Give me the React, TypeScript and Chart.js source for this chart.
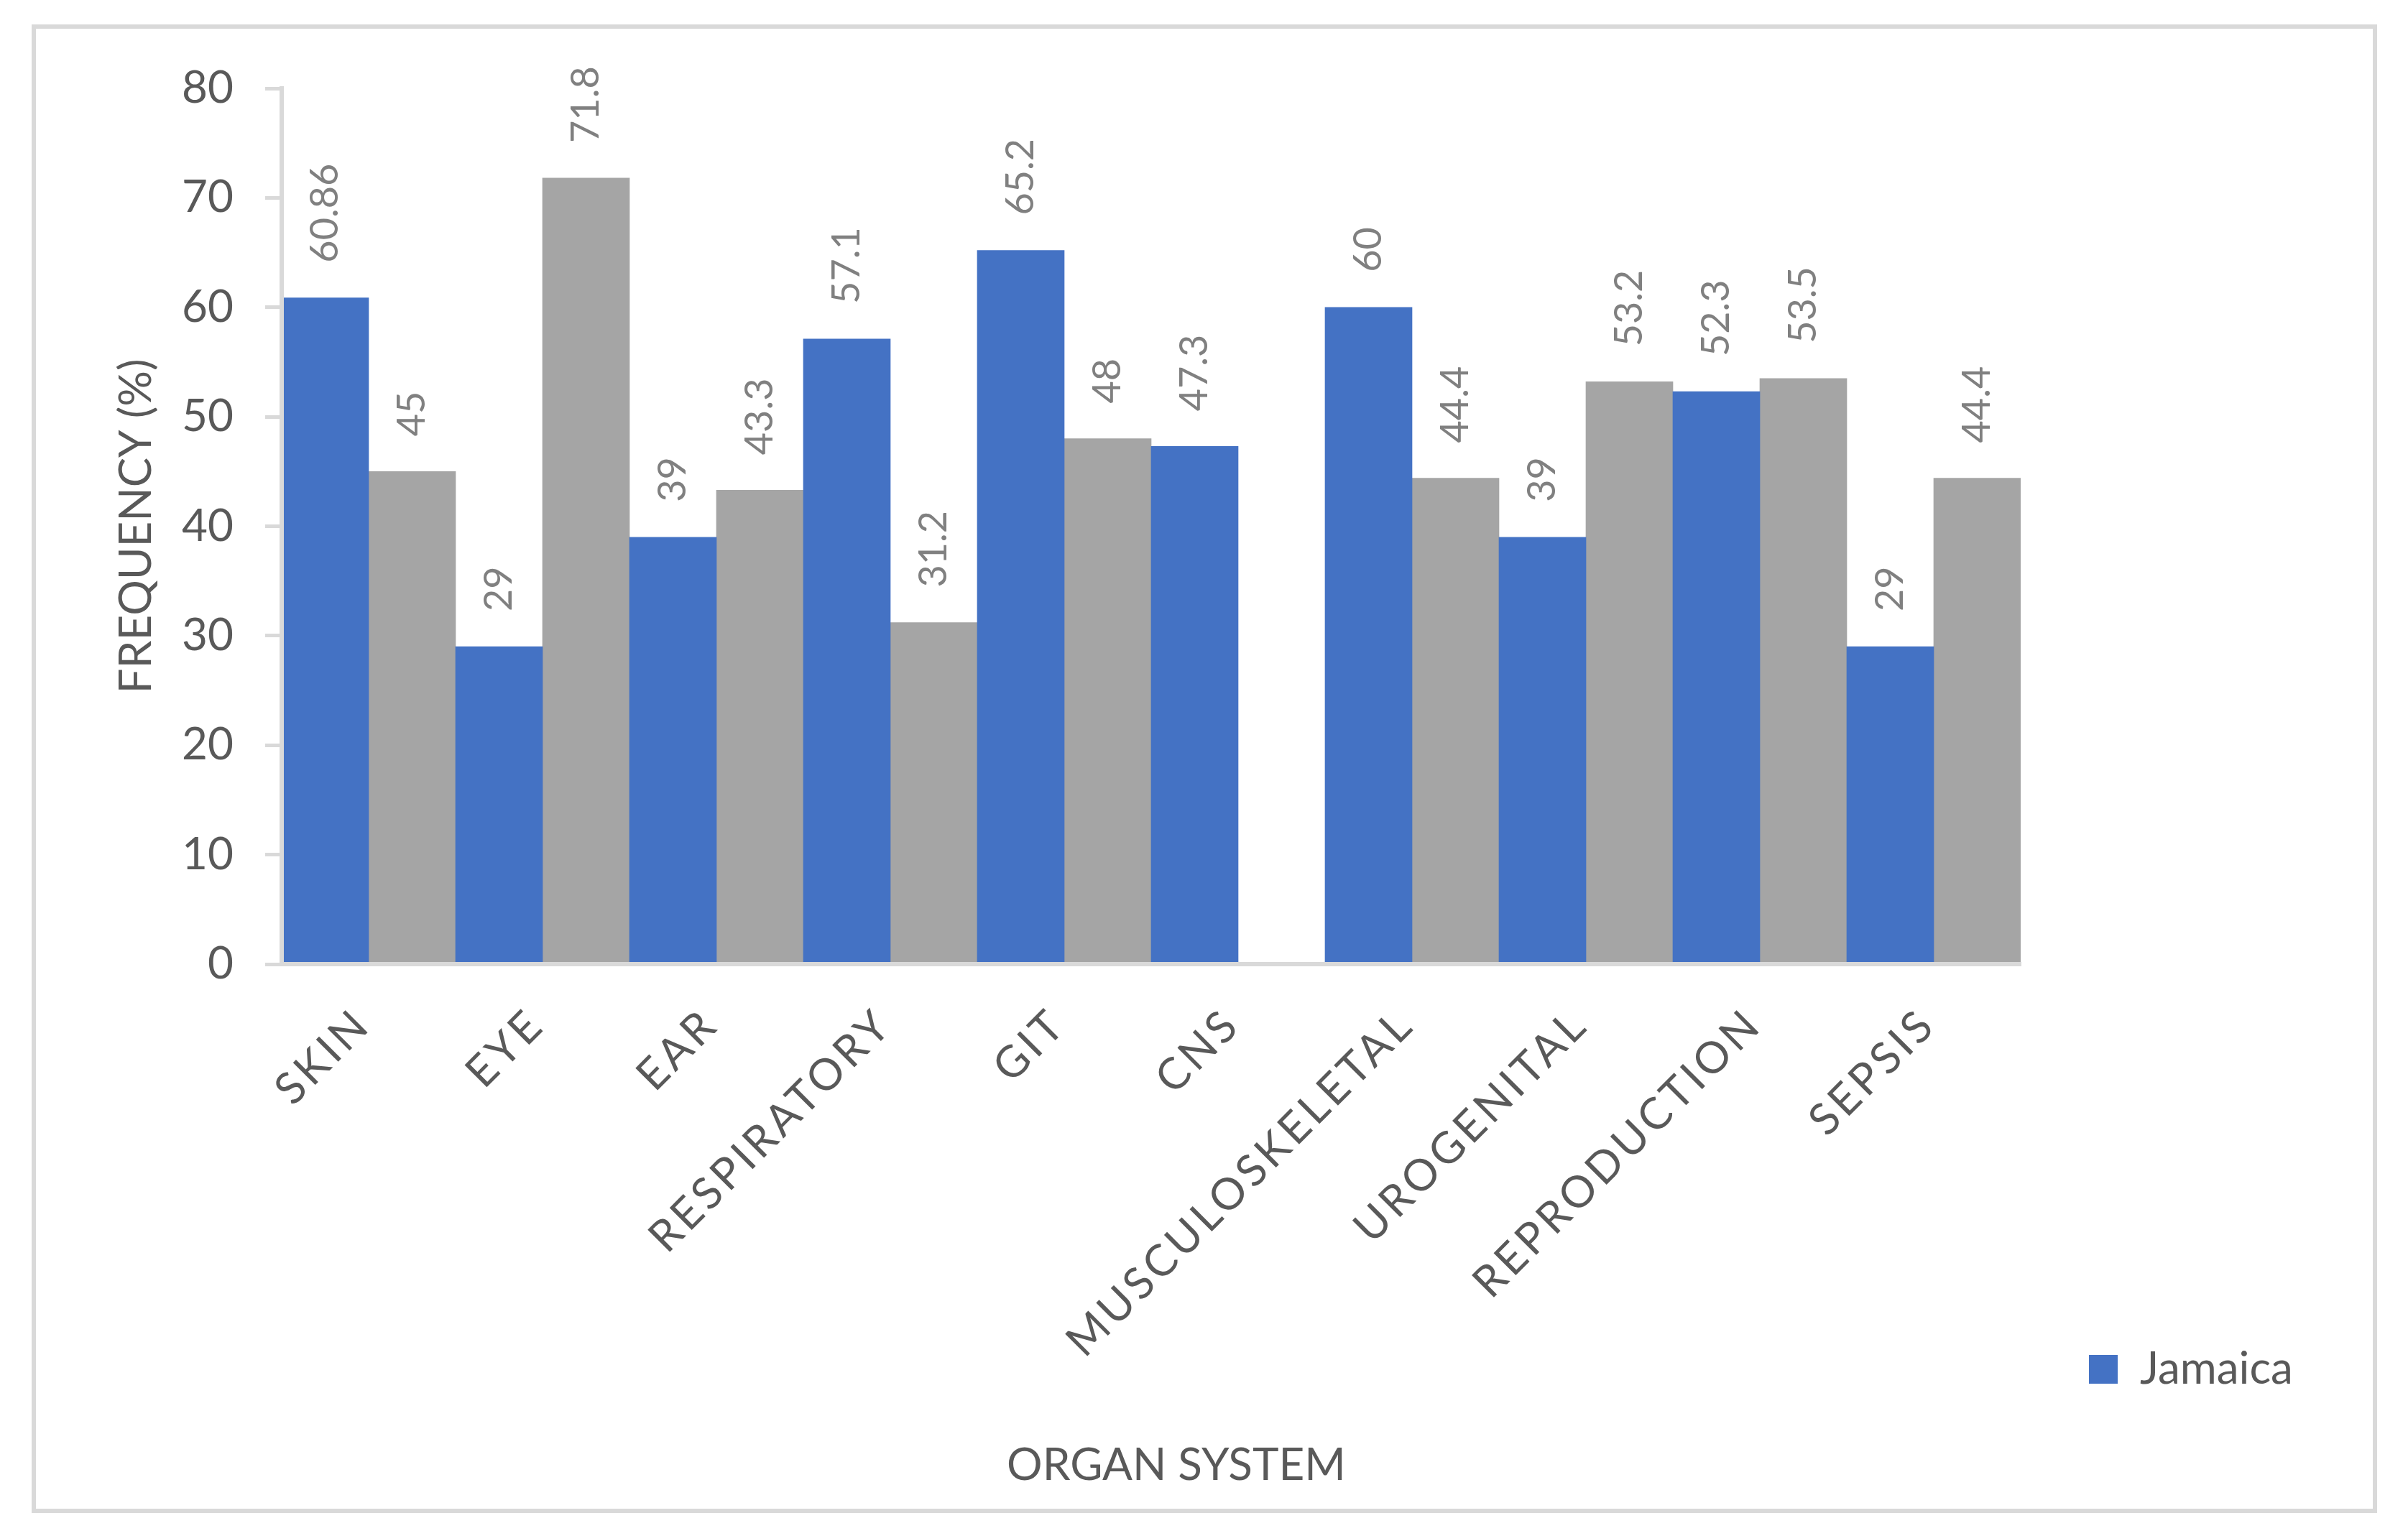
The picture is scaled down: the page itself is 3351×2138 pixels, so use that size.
import React, { useEffect, useRef } from 'react';
import { Chart, registerables } from 'chart.js';

Chart.register(...registerables);

const CATEGORIES = ['SKIN', 'EYE', 'EAR', 'RESPIRATORY', 'GIT', 'CNS', 'MUSCULOSKELETAL', 'UROGENITAL', 'REPRODUCTION', 'SEPSIS'];
const JAMAICA = [60.86, 29, 39, 57.1, 65.2, 47.3, 60, 39, 52.3, 29];
const SECOND_SERIES = [45, 71.8, 43.3, 31.2, 48, null, 44.4, 53.2, 53.5, 44.4];
const SERIES_NAMES = ['Jamaica', ''];
const Y_MIN = 0;
const Y_MAX = 80;
const Y_STEP = 10;
const Y_TITLE = 'FREQUENCY (%)';
const X_TITLE = 'ORGAN SYSTEM';

const W = 3351;
const H = 2138;
const FONT = 'Lato';
const TEXT = '#595959';
const LINE = '#d9d9d9';
const BLUE = '#4472c4';
const GREY = '#a5a5a5';
const LABEL_GREY = '#808080';
const X_LABEL_SPACING = '5px';
const X_TITLE_SHIFT = 35;
const LEGEND_FONT_SIZE = 62;
const LEGEND_BOX = 40;
const LEGEND_PAD = 95;
const PLOT_RIGHT = 2812;

const valueLabels = {
  id: 'valueLabels',
  afterDatasetsDraw(chart: any) {
    const ctx = chart.ctx;
    chart.data.datasets.forEach((ds: any, i: number) => {
      const meta = chart.getDatasetMeta(i);
      meta.data.forEach((bar: any, j: number) => {
        const v = ds.data[j];
        if (v === null || v === undefined) return;
        ctx.save();
        ctx.translate(bar.x, bar.y - 49);
        ctx.rotate(-Math.PI / 2);
        ctx.font = `54px ${FONT}`;
        ctx.fillStyle = LABEL_GREY;
        ctx.textAlign = 'left';
        ctx.textBaseline = 'middle';
        ctx.fillText(String(v), 0, 0);
        ctx.restore();
      });
    });
  },
};

const xAxisTweaks = {
  id: 'xAxisTweaks',
  beforeDraw(chart: any) {
    const s: any = chart.scales.x;
    if (!s || s.__wrapped) return;
    const origLabels = s.drawLabels.bind(s);
    s.drawLabels = (area: any) => {
      const ctx = chart.ctx;
      ctx.save();
      ctx.letterSpacing = X_LABEL_SPACING;
      origLabels(area);
      ctx.restore();
    };
    const origTitle = s.drawTitle.bind(s);
    s.drawTitle = () => {
      const ctx = chart.ctx;
      ctx.save();
      ctx.translate(X_TITLE_SHIFT, 0);
      origTitle();
      ctx.restore();
    };
    s.__wrapped = true;
  },
};

export default function App() {
  const ref = useRef<HTMLCanvasElement | null>(null);

  useEffect(() => {
    if (!ref.current) return;
    const mctx = document.createElement('canvas').getContext('2d') as CanvasRenderingContext2D;
    mctx.font = `${LEGEND_FONT_SIZE}px ${FONT}`;
    const tw = mctx.measureText(SERIES_NAMES[0]).width;
    const legendWidth = Math.ceil(LEGEND_PAD + LEGEND_BOX + LEGEND_FONT_SIZE / 2 + tw + 6);
    const padRight = W - PLOT_RIGHT - legendWidth;

    const chart = new Chart(ref.current, {
      type: 'bar',
      data: {
        labels: CATEGORIES,
        datasets: [
          {
            label: SERIES_NAMES[0],
            data: JAMAICA,
            backgroundColor: BLUE,
            borderWidth: 0,
            barPercentage: 1,
            categoryPercentage: 1,
          },
          {
            label: SERIES_NAMES[1],
            data: SECOND_SERIES as any,
            backgroundColor: GREY,
            borderWidth: 0,
            barPercentage: 1,
            categoryPercentage: 1,
          },
        ],
      },
      options: {
        animation: false,
        responsive: false,
        devicePixelRatio: 1,
        layout: { padding: { top: 123, left: 0, right: padRight, bottom: 106 } },
        plugins: {
          tooltip: { enabled: false },
          legend: {
            position: 'right',
            align: 'end',
            maxWidth: legendWidth,
            labels: {
              boxWidth: LEGEND_BOX,
              boxHeight: LEGEND_BOX,
              padding: LEGEND_PAD,
              color: TEXT,
              font: { family: FONT, size: LEGEND_FONT_SIZE },
              filter: (item: any) => item.text !== '',
            },
          },
        },
        scales: {
          x: {
            grid: { display: false, drawTicks: false },
            border: { display: true, color: LINE, width: 6, z: 1 },
            ticks: {
              autoSkip: false,
              minRotation: 45,
              maxRotation: 45,
              padding: 48,
              labelOffset: -8,
              color: TEXT,
              font: { family: FONT, size: 61 },
            },
            title: {
              display: true,
              text: X_TITLE,
              color: TEXT,
              font: { family: FONT, size: 62 },
              padding: { top: 0, bottom: -45 },
            },
            afterFit: (scale: any) => {
              scale.height = 690;
            },
          },
          y: {
            min: Y_MIN,
            max: Y_MAX,
            grid: {
              display: true,
              drawOnChartArea: false,
              drawTicks: true,
              tickLength: 23,
              lineWidth: 5,
              color: LINE,
            },
            border: { display: true, color: LINE, width: 6, z: 1 },
            ticks: {
              stepSize: Y_STEP,
              padding: 44,
              color: TEXT,
              font: { family: FONT, size: 62 },
            },
            title: {
              display: true,
              text: Y_TITLE,
              color: TEXT,
              font: { family: FONT, size: 62 },
              padding: { top: 153, bottom: 0 },
            },
            afterFit: (scale: any) => {
              scale.width = 392;
            },
          },
        },
      },
      plugins: [valueLabels, xAxisTweaks],
    });
    return () => chart.destroy();
  }, []);

  return (
    <div style={{ position: 'absolute', left: 0, top: 0, width: W, height: H, background: '#ffffff', overflow: 'hidden' }}>
      <div
        style={{
          position: 'absolute',
          left: 44,
          top: 34,
          width: 3264,
          height: 2072,
          border: `6px solid ${LINE}`,
          boxSizing: 'border-box',
        }}
      />
      <canvas ref={ref} width={W} height={H} style={{ position: 'absolute', left: 0, top: 0 }} />
    </div>
  );
}
